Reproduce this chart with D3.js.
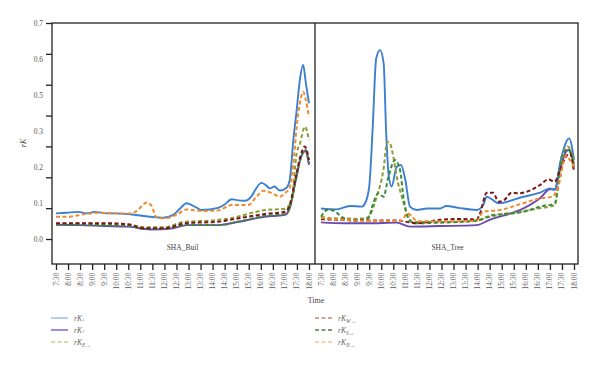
<!DOCTYPE html>
<html><head><meta charset="utf-8">
<script src="https://cdn.jsdelivr.net/npm/d3@7"></script>
<style>body{margin:0;background:#fff}svg{display:block}</style>
</head><body><svg id="c" width="600" height="367"></svg>
<script>
// ---- data ----
const timeLabels = ["7:30","8:00","8:30","9:00","9:30","10:00","10:30","11:00","11:30","12:00","12:30","13:00","13:30","14:00","14:30","15:00","15:30","16:00","16:30","17:00","17:30","18:00"];
const yTickValues = [0,0.1,0.2,0.3,0.4,0.5,0.6,0.7];
const yTickLabels = ["0.0","0.1","0.2","0.3","0.5","0.6","0.7"];
const panelNames = ["SHA_Buil","SHA_Tree"];
const seriesNames = ["rKdown","rKup","rKE","rKW","rKS","rKN"];

// Left panel (SHA_Buil): [hour, value]
const buil_down = [[7.5,.083],[7.94,.085],[8.43,.088],[8.77,.083],[9.12,.088],[9.6,.083],[10.0,.083],[10.57,.080],[11.4,.072],[11.95,.069],[12.37,.078],[12.65,.099],[12.92,.116],[13.05,.113],[13.3,.103],[13.55,.094],[14.23,.101],[14.5,.112],[14.79,.129],[15.0,.126],[15.34,.124],[15.62,.139],[15.8,.163],[16.03,.182],[16.2,.175],[16.38,.164],[16.56,.170],[16.8,.157],[17.07,.166],[17.2,.191],[17.35,.32],[17.49,.418],[17.62,.515],[17.76,.564],[17.87,.505],[18.0,.44]];
const buil_up = [[7.5,.046],[8.5,.045],[9.5,.042],[10.5,.040],[11.4,.031],[12.37,.035],[12.92,.045],[14.23,.045],[15.07,.056],[16.17,.072],[17.0,.078],[17.2,.10],[17.45,.19],[17.65,.26],[17.85,.285],[18.0,.24]];
const buil_E = [[7.5,.048],[8.5,.050],[9.5,.048],[10.5,.046],[11.2,.038],[12.0,.038],[12.85,.056],[13.5,.058],[14.23,.062],[14.93,.070],[15.5,.082],[16.17,.094],[17.0,.098],[17.28,.126],[17.49,.278],[17.63,.31],[17.83,.364],[18.0,.32]];
const buil_W = [[7.5,.051],[8.5,.051],[9.5,.051],[10.5,.048],[11.12,.035],[12.0,.035],[12.85,.051],[14.23,.056],[15.07,.067],[16.17,.081],[17.0,.088],[17.2,.11],[17.45,.20],[17.65,.27],[17.83,.30],[18.0,.256]];
const buil_S = [[7.5,.047],[8.5,.046],[9.5,.045],[10.5,.043],[11.2,.033],[12.0,.033],[12.85,.045],[14.23,.045],[15.07,.056],[16.17,.075],[17.0,.081],[17.2,.10],[17.45,.19],[17.65,.26],[17.85,.29],[18.0,.245]];
const buil_N = [[7.5,.072],[8.0,.072],[8.63,.080],[9.33,.085],[10.0,.083],[10.57,.083],[10.9,.094],[11.1,.110],[11.26,.118],[11.47,.107],[11.65,.072],[12.0,.067],[12.5,.078],[12.92,.096],[13.55,.091],[14.2,.092],[14.79,.110],[15.48,.110],[15.8,.135],[16.1,.156],[16.45,.149],[16.8,.137],[17.0,.149],[17.2,.165],[17.38,.267],[17.49,.364],[17.62,.44],[17.76,.477],[17.87,.45],[18.0,.396]];

// Right panel (SHA_Tree)
const tree_down = [[7.5,.099],[8.15,.096],[8.7,.107],[9.19,.105],[9.33,.116],[9.5,.17],[9.64,.353],[9.79,.585],[9.95,.612],[10.1,.569],[10.2,.353],[10.3,.213],[10.43,.17],[10.64,.234],[10.82,.24],[11.0,.191],[11.19,.105],[11.47,.094],[11.9,.099],[12.44,.099],[12.7,.107],[13.2,.101],[13.96,.094],[14.23,.110],[14.38,.137],[14.58,.129],[14.86,.116],[15.9,.137],[16.59,.150],[17.0,.164],[17.2,.159],[17.42,.245],[17.8,.326],[18.0,.256]];
const tree_up = [[7.5,.054],[8.5,.051],[9.5,.051],[10.64,.053],[11.19,.040],[12.44,.042],[13.96,.045],[14.5,.062],[15.9,.099],[16.59,.132],[17.0,.161],[17.2,.161],[17.42,.224],[17.67,.283],[17.8,.29],[18.0,.234]];
const tree_E = [[7.5,.072],[8.05,.067],[9.0,.066],[9.33,.067],[9.5,.075],[9.81,.137],[10.09,.224],[10.25,.315],[10.36,.31],[10.5,.267],[10.64,.202],[10.85,.138],[11.06,.083],[11.3,.055],[12.44,.055],[13.96,.060],[14.5,.072],[15.9,.09],[16.59,.10],[17.2,.11],[17.49,.26],[17.75,.30],[18.0,.25]];
const tree_W = [[7.5,.064],[8.5,.062],[9.6,.060],[10.64,.060],[11.47,.051],[12.44,.062],[13.3,.065],[13.96,.063],[14.1,.083],[14.38,.150],[14.65,.150],[14.86,.121],[15.1,.126],[15.41,.150],[15.7,.148],[16.0,.152],[16.59,.175],[16.93,.193],[17.2,.186],[17.42,.224],[17.67,.267],[17.83,.278],[18.0,.218]];
const tree_S = [[7.5,.072],[7.8,.096],[8.1,.088],[8.36,.072],[8.8,.059],[9.46,.067],[9.67,.116],[9.88,.148],[10.09,.137],[10.3,.202],[10.57,.256],[10.78,.224],[10.92,.137],[11.12,.067],[11.4,.051],[12.44,.053],[13.96,.059],[14.5,.075],[15.9,.088],[16.59,.105],[17.2,.115],[17.35,.18],[17.49,.267],[17.75,.29],[18.0,.245]];
const tree_N = [[7.5,.068],[8.5,.062],[9.8,.058],[10.85,.059],[11.06,.083],[11.26,.075],[11.47,.058],[12.44,.057],[13.96,.059],[14.23,.088],[14.93,.094],[15.9,.116],[16.59,.132],[17.1,.137],[17.35,.172],[17.67,.27],[17.83,.256],[18.0,.234]];

// ---- styles ----
const colors = {rKdown:"#3d7fd0", rKup:"#6a4aae", rKE:"#8e9d35", rKW:"#7a1518", rKS:"#3b8b3b", rKN:"#ef8b2c"};
const legendColors = {rKdown:"#a3c2ea", rKup:"#8f6fce", rKE:"#c9d08e", rKW:"#c48b7b", rKS:"#4f7d47", rKN:"#f3c58d"};
const dashed = {rKdown:false, rKup:false, rKE:true, rKW:true, rKS:true, rKN:true};

const panels = [
  {name: panelNames[0], key: "L", series: {rKdown:buil_down, rKup:buil_up, rKE:buil_E, rKW:buil_W, rKS:buil_S, rKN:buil_N}},
  {name: panelNames[1], key: "R", series: {rKdown:tree_down, rKup:tree_up, rKE:tree_E, rKW:tree_W, rKS:tree_S, rKN:tree_N}}
];

const svg = d3.select("#c");
const font = "'Liberation Serif', 'DejaVu Serif', serif";
const fTop = 23, fBottom = 264, fLeft = 52, fRight = 578, fDivider = 315;

const y = d3.scaleLinear().domain([0, 0.7]).range([239, 23]);
const xKeys = [];
panels.forEach(p => timeLabels.forEach(t => xKeys.push(p.key + t)));
const xPoint = d3.scalePoint().domain(xKeys).range([56, 574]);

// frame
const frame = svg.append("g").attr("stroke", "#222").attr("stroke-width", 1.3).attr("fill", "none");
frame.append("rect").attr("x", fLeft).attr("y", fTop).attr("width", fRight - fLeft).attr("height", fBottom - fTop);
frame.append("line").attr("x1", fDivider).attr("x2", fDivider).attr("y1", fTop).attr("y2", fBottom);

// y axis ticks
const yAxis = d3.axisLeft(y).tickValues(yTickValues).tickSize(6).tickFormat("");
const ya = svg.append("g").attr("transform", `translate(${fLeft},0)`).call(yAxis);
ya.select(".domain").remove();
ya.selectAll("line").attr("stroke", "#222").attr("stroke-width", 1.3);
const yLab = d3.scalePoint().domain(yTickLabels).range([239, 23]);
svg.append("g").selectAll("text").data(yTickLabels).join("text")
  .attr("x", 43).attr("y", d => yLab(d)).attr("dy", "0.35em")
  .attr("text-anchor", "end").attr("font-family", font).attr("font-size", 7.5).attr("fill", "#555").text(d => d);

// x axis
const xAxis = d3.axisBottom(xPoint).tickSize(6).tickFormat("");
const xa = svg.append("g").attr("transform", `translate(0,${fBottom})`).call(xAxis);
xa.select(".domain").remove();
xa.selectAll("line").attr("stroke", "#222").attr("stroke-width", 1.3);
svg.append("g").selectAll("text").data(xKeys).join("text")
  .attr("transform", d => `translate(${xPoint(d)},273) rotate(-90)`)
  .attr("dy", "0.35em").attr("text-anchor", "end")
  .attr("font-family", font).attr("font-size", 7.2).attr("fill", "#555")
  .text(d => d.slice(1));

svg.append("text").attr("x", 316).attr("y", 303).attr("text-anchor", "middle")
  .attr("font-family", font).attr("font-size", 8).attr("fill", "#444").text("Time");

const yl = svg.append("text").attr("transform", "translate(26,143) rotate(-90)").attr("text-anchor", "middle")
  .attr("font-family", font).attr("font-size", 8).attr("font-style", "italic").attr("fill", "#444");
yl.append("tspan").text("rK");

// lines
const order = ["rKup","rKdown","rKE","rKS","rKW","rKN"];
panels.forEach(p => {
  const x = d3.scaleLinear().domain([7.5, 18]).range([xPoint(p.key + timeLabels[0]), xPoint(p.key + timeLabels[timeLabels.length - 1])]);
  const line = d3.line().x(d => x(d[0])).y(d => y(d[1])).curve(d3.curveMonotoneX);
  const g = svg.append("g");
  order.forEach(s => {
    g.append("path").datum(p.series[s]).attr("d", line).attr("fill", "none")
      .attr("stroke", colors[s]).attr("stroke-width", dashed[s] ? 2 : 1.9)
      .attr("stroke-dasharray", dashed[s] ? "4,2.5" : null)
      .attr("stroke-linejoin", "round");
  });
  svg.append("text").attr("x", (x.range()[0] + x.range()[1]) / 2).attr("y", 250)
    .attr("text-anchor", "middle").attr("font-family", font).attr("font-size", 7.5).attr("fill", "#444").text(p.name);
});

// legend
const legendItems = [
  {s:"rKdown", main:"rK", sub:"↓", col:0, row:0},
  {s:"rKup", main:"rK", sub:"↑", col:0, row:1},
  {s:"rKE", main:"rK", sub:"E→", col:0, row:2},
  {s:"rKW", main:"rK", sub:"W→", col:1, row:0},
  {s:"rKS", main:"rK", sub:"S→", col:1, row:1},
  {s:"rKN", main:"rK", sub:"N→", col:1, row:2}
];
const colX = [51, 315], rowY = [318, 330, 342];
const lg = svg.append("g");
legendItems.forEach(it => {
  const x0 = colX[it.col], yy = rowY[it.row];
  lg.append("line").attr("x1", x0).attr("x2", x0 + 17).attr("y1", yy).attr("y2", yy)
    .attr("stroke", legendColors[it.s]).attr("stroke-width", 1.6)
    .attr("stroke-dasharray", dashed[it.s] ? "4,2.5" : null);
  const t = lg.append("text").attr("x", x0 + 23).attr("y", yy + 2.5)
    .attr("font-family", font).attr("font-size", 7.5).attr("font-style", "italic").attr("fill", "#666");
  t.append("tspan").text(it.main);
  t.append("tspan").attr("font-size", 5.5).attr("dy", it.sub.length > 1 ? 2 : 0).text(it.sub);
});
</script></body></html>
